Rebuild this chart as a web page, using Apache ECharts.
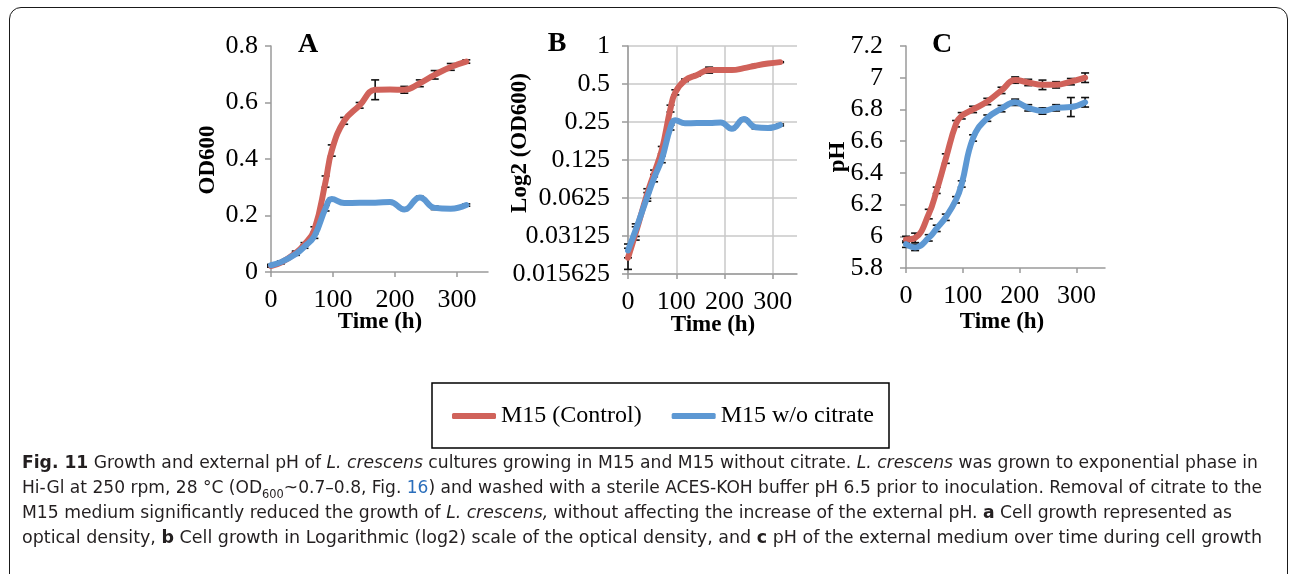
<!DOCTYPE html>
<html>
<head>
<meta charset="utf-8">
<title>Fig. 11 - growth and external pH</title>
<script src="https://cdn.jsdelivr.net/npm/echarts@6/dist/echarts.min.js"></script>
<style>
	html, body { margin: 0; width: 1290px; height: 574px; overflow: hidden; background: #fff; }
	#frame { position: absolute; left: 9px; top: 7px; width: 1277px; height: 620px; border: 1.5px solid #1a1a1a; border-radius: 12px; }
	#main { position: absolute; left: 0; top: 0; width: 1290px; height: 574px; }
	#caption { position: absolute; left: 22px; top: 449px; font-family: "Liberation Sans Narrow", "DejaVu Sans Condensed", "Open Sans", sans-serif; font-size: 18px; color: #231f20; }
	.ln { height: 25px; line-height: 25px; white-space: nowrap; }
	.ln span.fit { display: inline-block; transform-origin: 0 50%; }
	.lnk { color: #2a6ebb; }
</style>
</head>
<body>
<div id="frame"></div>
<div id="main"></div>
<div id="caption">
	<div class="ln"><span class="fit"><b>Fig. 11</b> Growth and external pH of <i>L. crescens</i> cultures growing in M15 and M15 without citrate. <i>L. crescens</i> was grown to exponential phase in</span></div>
	<div class="ln"><span class="fit">Hi-Gl at 250 rpm, 28 °C (OD<sub style="font-size:12px">600</sub>~0.7–0.8, Fig. <span class="lnk">16</span>) and washed with a sterile ACES-KOH buffer pH 6.5 prior to inoculation. Removal of citrate to the</span></div>
	<div class="ln"><span class="fit">M15 medium significantly reduced the growth of <i>L. crescens,</i> without affecting the increase of the external pH. <b>a</b> Cell growth represented as</span></div>
	<div class="ln"><span class="fit">optical density, <b>b</b> Cell growth in Logarithmic (log2) scale of the optical density, and <b>c</b> pH of the external medium over time during cell growth</span></div>
</div>
<script type="text/javascript">
	// sampling times (h), shared by the three panels
	var hours = [0, 16, 40, 54, 70, 88, 98, 118, 143, 168, 192, 215, 240, 264, 290, 315];
	// OD600 (panels A and B)
	var odControl = [0.021, 0.033, 0.068, 0.098, 0.15, 0.32, 0.43, 0.535, 0.59, 0.645, 0.646, 0.645, 0.668, 0.698, 0.726, 0.745];
	var odControlErr = [0.004, 0.004, 0.006, 0.006, 0.01, 0.02, 0.02, 0.012, 0.01, 0.035, 0.006, 0.012, 0.012, 0.015, 0.012, 0.006];
	var odNoCitrate = [0.024, 0.035, 0.064, 0.09, 0.127, 0.226, 0.258, 0.244, 0.245, 0.245, 0.248, 0.221, 0.264, 0.227, 0.224, 0.237];
	var odNoCitrateErr = [0.003, 0.004, 0.005, 0.006, 0.008, 0.01, 0.004, 0.003, 0.003, 0.003, 0.003, 0.003, 0.004, 0.006, 0.003, 0.004];
	// external pH (panel C)
	var phControl = [5.98, 5.99, 6.14, 6.29, 6.49, 6.71, 6.76, 6.8, 6.85, 6.92, 6.985, 6.97, 6.955, 6.955, 6.975, 7.0];
	var phControlErr = [0.02, 0.03, 0.03, 0.02, 0.03, 0.02, 0.02, 0.02, 0.02, 0.02, 0.02, 0.02, 0.03, 0.02, 0.02, 0.03];
	var phNoCitrate = [5.95, 5.93, 5.99, 6.05, 6.12, 6.23, 6.33, 6.62, 6.745, 6.805, 6.845, 6.81, 6.79, 6.81, 6.815, 6.845];
	var phNoCitrateErr = [0.02, 0.02, 0.02, 0.02, 0.02, 0.02, 0.02, 0.02, 0.02, 0.02, 0.02, 0.02, 0.02, 0.02, 0.06, 0.03];

	var seriesNames = ['M15 (Control)', 'M15 w/o citrate'];
	var xTicks = [0, 100, 200, 300];

	var RED = '#d0625a';
	var BLUE = '#5d98d3';
	var AX = '#9a9a9a';
	var GRIDLINE = '#c9c9c9';
	var SERIF = '"Liberation Serif", "Times New Roman", serif';

	function pairs(vals) {
		return hours.map(function (h, i) { return [h, vals[i]]; });
	}

	function lineSeries(idx, name, vals, color, z) {
		return {
			type: 'line', name: name, xAxisIndex: idx, yAxisIndex: idx,
			data: pairs(vals), smooth: 0.45, showSymbol: false, z: z,
			lineStyle: { width: 6, color: color, cap: 'round', join: 'round' },
			itemStyle: { color: color }
		};
	}

	function errorSeries(idx, vals, errs) {
		return {
			type: 'custom', xAxisIndex: idx, yAxisIndex: idx, z: 2, silent: true,
			data: hours.map(function (h, i) { return [h, vals[i] - errs[i], vals[i] + errs[i]]; }),
			encode: { x: 0, y: [1, 2] },
			renderItem: function (params, api) {
				var lo = api.coord([api.value(0), api.value(1)]);
				var hi = api.coord([api.value(0), api.value(2)]);
				var w = 4;
				var st = { stroke: '#111', lineWidth: 1.6 };
				return {
					type: 'group',
					children: [
						{ type: 'line', shape: { x1: lo[0], y1: lo[1], x2: hi[0], y2: hi[1] }, style: st },
						{ type: 'line', shape: { x1: lo[0] - w, y1: lo[1], x2: lo[0] + w, y2: lo[1] }, style: st },
						{ type: 'line', shape: { x1: hi[0] - w, y1: hi[1], x2: hi[0] + w, y2: hi[1] }, style: st }
					]
				};
			}
		};
	}

	function xAxisOf(idx, gridLines) {
		return {
			gridIndex: idx, type: 'value', min: 0, max: 350, interval: gridLines ? 20 : 100,
			axisLine: { show: true, lineStyle: { color: AX, width: 1.5 } },
			axisTick: { show: true, length: 5, customValues: xTicks, lineStyle: { color: AX, width: 1.5 } },
			axisLabel: { customValues: xTicks, margin: 15, fontFamily: SERIF, fontSize: 26, color: '#000' },
			splitLine: { show: gridLines, lineStyle: { color: GRIDLINE, width: 1.5 } }
		};
	}

	function titleText(x, y, text, size, rotate) {
		return {
			type: 'text', x: x, y: y, rotation: rotate ? Math.PI / 2 : 0, silent: true,
			style: { text: text, font: 'bold ' + size + 'px ' + SERIF, fill: '#000', align: 'center', verticalAlign: 'middle' }
		};
	}

	var myChart = echarts.init(document.getElementById('main'));
	var option = {
		animation: false,
		backgroundColor: 'transparent',
		grid: [
			{ left: 271, top: 46, width: 217, height: 226 },
			{ left: 628, top: 46, width: 169, height: 228 },
			{ left: 906, top: 46, width: 199, height: 222 }
		],
		xAxis: [xAxisOf(0, false), xAxisOf(1, true), xAxisOf(2, false)],
		yAxis: [
			{
				gridIndex: 0, type: 'value', min: 0, max: 0.8, interval: 0.2,
				axisLine: { show: true, lineStyle: { color: AX, width: 1.5 } },
				axisTick: { show: true, length: 6, lineStyle: { color: AX, width: 1.5 } },
				axisLabel: { margin: 13, fontFamily: SERIF, fontSize: 26, color: '#000' },
				splitLine: { show: false }
			},
			{
				gridIndex: 1, type: 'log', logBase: 2, min: 0.015625, max: 1, interval: 1,
				axisLine: { show: true, lineStyle: { color: AX, width: 1.5 } },
				axisTick: { show: true, length: 6, lineStyle: { color: AX, width: 1.5 } },
				axisLabel: {
					margin: 18, fontFamily: SERIF, fontSize: 26, color: '#000',
					formatter: function (v) { return String(Math.pow(2, Math.round(Math.log(v) / Math.LN2))); }
				},
				splitLine: { show: true, lineStyle: { color: GRIDLINE, width: 1.5 } }
			},
			{
				gridIndex: 2, type: 'value', min: 5.8, max: 7.2, interval: 0.2,
				axisLine: { show: true, lineStyle: { color: AX, width: 1.5 } },
				axisTick: { show: true, length: 6, lineStyle: { color: AX, width: 1.5 } },
				axisLabel: { margin: 23, fontFamily: SERIF, fontSize: 26, color: '#000' },
				splitLine: { show: false }
			}
		],
		legend: {
			data: seriesNames, left: 447, top: 399, itemWidth: 44, itemHeight: 6, itemGap: 30,
			icon: 'roundRect', selectedMode: false,
			textStyle: { fontFamily: SERIF, fontSize: 24, color: '#000' }
		},
		graphic: [
			{ type: 'rect', shape: { x: 432, y: 383, width: 457, height: 65 }, style: { fill: 'none', stroke: '#000', lineWidth: 1.5 }, silent: true },
			titleText(308, 45, 'A', 28),
			titleText(557, 44, 'B', 28),
			titleText(942, 45, 'C', 28),
			titleText(208, 160, 'OD600', 23, true),
			titleText(520, 143, 'Log2 (OD600)', 23, true),
			titleText(838, 157, 'pH', 23, true),
			titleText(380, 322, 'Time (h)', 23),
			titleText(713, 325, 'Time (h)', 23),
			titleText(1002, 322, 'Time (h)', 23)
		],
		series: [
			errorSeries(0, odControl, odControlErr),
			errorSeries(0, odNoCitrate, odNoCitrateErr),
			lineSeries(0, seriesNames[0], odControl, RED, 3),
			lineSeries(0, seriesNames[1], odNoCitrate, BLUE, 4),
			errorSeries(1, odControl, odControlErr),
			errorSeries(1, odNoCitrate, odNoCitrateErr),
			lineSeries(1, seriesNames[0], odControl, RED, 3),
			lineSeries(1, seriesNames[1], odNoCitrate, BLUE, 4),
			errorSeries(2, phControl, phControlErr),
			errorSeries(2, phNoCitrate, phNoCitrateErr),
			lineSeries(2, seriesNames[0], phControl, RED, 3),
			lineSeries(2, seriesNames[1], phNoCitrate, BLUE, 4)
		]
	};
	myChart.setOption(option);

	// stretch each caption line to the width it has in the figure
	var lineWidths = [1236, 1240, 1210, 1240];
	var fits = document.querySelectorAll('#caption .fit');
	for (var i = 0; i < fits.length; i++) {
		var w = fits[i].getBoundingClientRect().width;
		fits[i].style.transform = 'scaleX(' + (lineWidths[i] / w) + ')';
	}
</script>
</body>
</html>
